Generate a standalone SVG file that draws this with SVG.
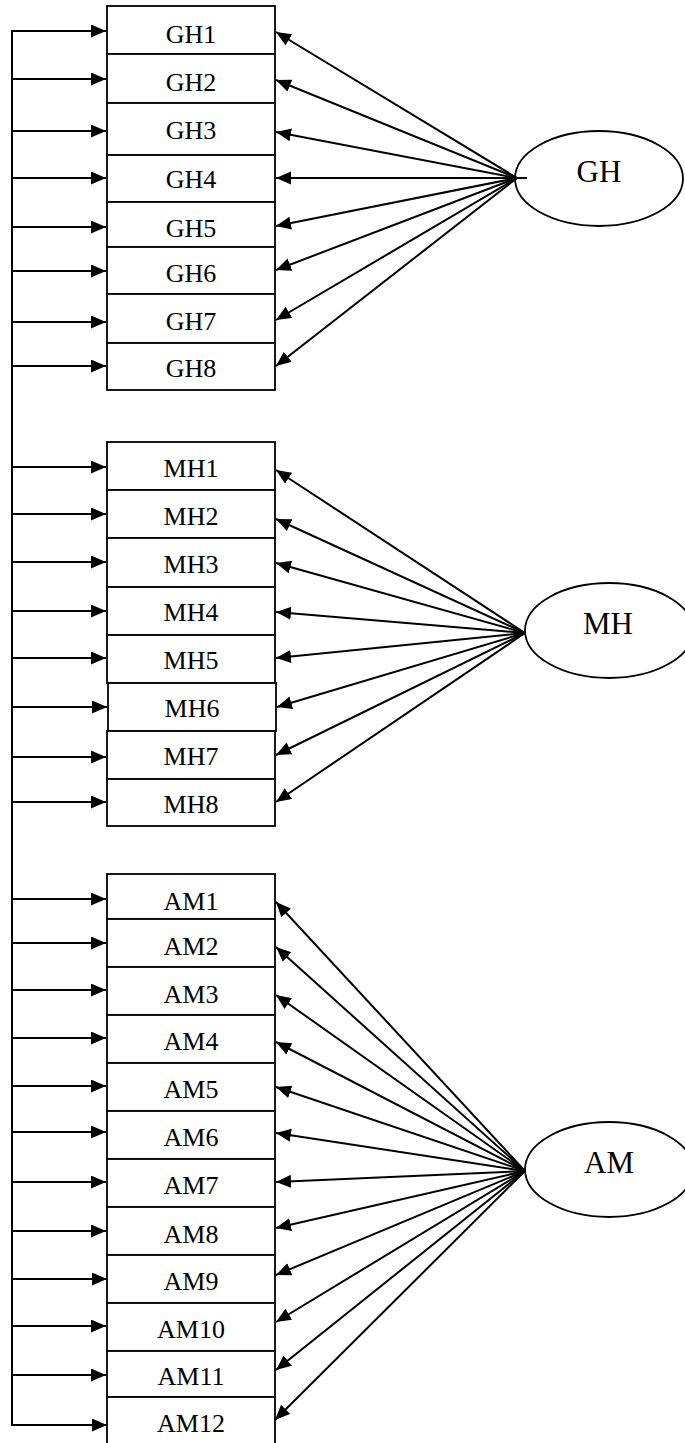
<svg xmlns="http://www.w3.org/2000/svg" width="685" height="1443" viewBox="0 0 685 1443">
<style>
.box{fill:#fff;stroke:#000;stroke-width:1.8}
.lbl{font-family:"Liberation Serif","Times New Roman",serif;font-size:26px;text-anchor:middle;fill:#000}
.big{font-family:"Liberation Serif","Times New Roman",serif;font-size:31px;text-anchor:middle;fill:#000}
.ell{fill:#fff;stroke:#000;stroke-width:1.8}
.c{stroke:#000;stroke-width:2;fill:none}
.a{stroke:#000;stroke-width:2;fill:none;marker-end:url(#ah)}
</style>
<defs>
<marker id="ah" markerUnits="userSpaceOnUse" markerWidth="16" markerHeight="14" refX="15" refY="6.5" orient="auto">
<path d="M0,0 L15,6.5 L0,13 z" fill="#000"/>
</marker>
</defs>
<g id="nodes">
<g id="GH1"><rect class="box" x="107" y="6" width="168" height="48"/><text class="lbl" x="191" y="43">GH1</text></g>
<g id="GH2"><rect class="box" x="107" y="54" width="168" height="49"/><text class="lbl" x="191" y="91">GH2</text></g>
<g id="GH3"><rect class="box" x="107" y="103" width="168" height="52"/><text class="lbl" x="191" y="139">GH3</text></g>
<g id="GH4"><rect class="box" x="107" y="155" width="168" height="47"/><text class="lbl" x="191" y="188">GH4</text></g>
<g id="GH5"><rect class="box" x="107" y="202" width="168" height="45"/><text class="lbl" x="191" y="237">GH5</text></g>
<g id="GH6"><rect class="box" x="107" y="247" width="168" height="47"/><text class="lbl" x="191" y="282">GH6</text></g>
<g id="GH7"><rect class="box" x="107" y="294" width="168" height="49"/><text class="lbl" x="191" y="330">GH7</text></g>
<g id="GH8"><rect class="box" x="107" y="343" width="168" height="47"/><text class="lbl" x="191" y="377">GH8</text></g>
<g id="MH1"><rect class="box" x="107" y="442" width="168" height="48"/><text class="lbl" x="191" y="477">MH1</text></g>
<g id="MH2"><rect class="box" x="107" y="490" width="168" height="48"/><text class="lbl" x="191" y="525">MH2</text></g>
<g id="MH3"><rect class="box" x="107" y="538" width="168" height="49"/><text class="lbl" x="191" y="573">MH3</text></g>
<g id="MH4"><rect class="box" x="107" y="587" width="168" height="48"/><text class="lbl" x="191" y="621">MH4</text></g>
<g id="MH5"><rect class="box" x="107" y="635" width="168" height="48"/><text class="lbl" x="191" y="669">MH5</text></g>
<g id="MH6"><rect class="box" x="108" y="683" width="168" height="48"/><text class="lbl" x="192" y="717">MH6</text></g>
<g id="MH7"><rect class="box" x="107" y="731" width="168" height="48"/><text class="lbl" x="191" y="765">MH7</text></g>
<g id="MH8"><rect class="box" x="107" y="779" width="168" height="47"/><text class="lbl" x="191" y="813">MH8</text></g>
<g id="AM1"><rect class="box" x="107" y="874" width="168" height="45"/><text class="lbl" x="191" y="910">AM1</text></g>
<g id="AM2"><rect class="box" x="107" y="919" width="168" height="48"/><text class="lbl" x="191" y="955">AM2</text></g>
<g id="AM3"><rect class="box" x="107" y="967" width="168" height="48"/><text class="lbl" x="191" y="1003">AM3</text></g>
<g id="AM4"><rect class="box" x="107" y="1015" width="168" height="48"/><text class="lbl" x="191" y="1050">AM4</text></g>
<g id="AM5"><rect class="box" x="107" y="1063" width="168" height="48"/><text class="lbl" x="191" y="1098">AM5</text></g>
<g id="AM6"><rect class="box" x="107" y="1111" width="168" height="48"/><text class="lbl" x="191" y="1146">AM6</text></g>
<g id="AM7"><rect class="box" x="107" y="1159" width="168" height="48"/><text class="lbl" x="191" y="1194">AM7</text></g>
<g id="AM8"><rect class="box" x="107" y="1207" width="168" height="48"/><text class="lbl" x="191" y="1243">AM8</text></g>
<g id="AM9"><rect class="box" x="107" y="1255" width="168" height="48"/><text class="lbl" x="191" y="1290">AM9</text></g>
<g id="AM10"><rect class="box" x="107" y="1303" width="168" height="48"/><text class="lbl" x="191" y="1338">AM10</text></g>
<g id="AM11"><rect class="box" x="107" y="1351" width="168" height="46"/><text class="lbl" x="191" y="1385">AM11</text></g>
<g id="AM12"><rect class="box" x="107" y="1397" width="168" height="50"/><text class="lbl" x="191" y="1432">AM12</text></g>
<g id="GH"><ellipse class="ell" cx="599" cy="178.5" rx="84" ry="47.5"/><text class="big" x="599" y="182">GH</text></g>
<g id="MH"><ellipse class="ell" cx="609" cy="630.5" rx="84" ry="47.5"/><text class="big" x="608" y="634">MH</text></g>
<g id="AM"><ellipse class="ell" cx="609" cy="1169.5" rx="84" ry="47.5"/><text class="big" x="609" y="1173">AM</text></g>
</g>
<g id="connectors">
<line class="c" x1="12" y1="30" x2="12" y2="1426"/>
<line class="a" x1="11" y1="31" x2="106" y2="31"/>
<line class="a" x1="11" y1="79" x2="106" y2="79"/>
<line class="a" x1="11" y1="131" x2="106" y2="131"/>
<line class="a" x1="11" y1="178" x2="106" y2="178"/>
<line class="a" x1="11" y1="227" x2="106" y2="227"/>
<line class="a" x1="11" y1="271" x2="106" y2="271"/>
<line class="a" x1="11" y1="322" x2="106" y2="322"/>
<line class="a" x1="11" y1="366" x2="106" y2="366"/>
<line class="a" x1="11" y1="467" x2="106" y2="467"/>
<line class="a" x1="11" y1="514" x2="106" y2="514"/>
<line class="a" x1="11" y1="562" x2="106" y2="562"/>
<line class="a" x1="11" y1="611" x2="106" y2="611"/>
<line class="a" x1="11" y1="658" x2="106" y2="658"/>
<line class="a" x1="11" y1="707" x2="107" y2="707"/>
<line class="a" x1="11" y1="757" x2="106" y2="757"/>
<line class="a" x1="11" y1="802" x2="106" y2="802"/>
<line class="a" x1="11" y1="899" x2="106" y2="899"/>
<line class="a" x1="11" y1="943" x2="106" y2="943"/>
<line class="a" x1="11" y1="990" x2="106" y2="990"/>
<line class="a" x1="11" y1="1038" x2="106" y2="1038"/>
<line class="a" x1="11" y1="1086" x2="106" y2="1086"/>
<line class="a" x1="11" y1="1132" x2="106" y2="1132"/>
<line class="a" x1="11" y1="1182" x2="106" y2="1182"/>
<line class="a" x1="11" y1="1231" x2="106" y2="1231"/>
<line class="a" x1="11" y1="1279" x2="107" y2="1279"/>
<line class="a" x1="11" y1="1326" x2="106" y2="1326"/>
<line class="a" x1="11" y1="1375" x2="106" y2="1375"/>
<line class="a" x1="11" y1="1425" x2="107" y2="1425"/>
<line class="c" x1="515" y1="178" x2="527" y2="178"/>
<line class="a" x1="517" y1="178" x2="276" y2="32"/>
<line class="a" x1="517" y1="178" x2="276" y2="80"/>
<line class="a" x1="517" y1="178" x2="276" y2="132"/>
<line class="a" x1="517" y1="178" x2="276" y2="178"/>
<line class="a" x1="517" y1="178" x2="276" y2="226"/>
<line class="a" x1="517" y1="178" x2="276" y2="270"/>
<line class="a" x1="517" y1="178" x2="276" y2="320"/>
<line class="a" x1="517" y1="178" x2="276" y2="366"/>
<line class="a" x1="525" y1="633" x2="276" y2="470"/>
<line class="a" x1="525" y1="633" x2="276" y2="519"/>
<line class="a" x1="525" y1="633" x2="276" y2="563"/>
<line class="a" x1="525" y1="633" x2="276" y2="612"/>
<line class="a" x1="525" y1="633" x2="276" y2="658"/>
<line class="a" x1="525" y1="633" x2="277" y2="707"/>
<line class="a" x1="525" y1="633" x2="276" y2="755"/>
<line class="a" x1="525" y1="633" x2="276" y2="802"/>
<line class="a" x1="525" y1="1171" x2="276" y2="902"/>
<line class="a" x1="525" y1="1171" x2="276" y2="947"/>
<line class="a" x1="525" y1="1171" x2="276" y2="995"/>
<line class="a" x1="525" y1="1171" x2="276" y2="1042"/>
<line class="a" x1="525" y1="1171" x2="276" y2="1087"/>
<line class="a" x1="525" y1="1171" x2="276" y2="1133"/>
<line class="a" x1="525" y1="1171" x2="276" y2="1182"/>
<line class="a" x1="525" y1="1171" x2="276" y2="1228"/>
<line class="a" x1="525" y1="1171" x2="276" y2="1275"/>
<line class="a" x1="525" y1="1171" x2="276" y2="1322"/>
<line class="a" x1="525" y1="1171" x2="276" y2="1370"/>
<line class="a" x1="525" y1="1171" x2="275" y2="1420"/>
</g>
</svg>
